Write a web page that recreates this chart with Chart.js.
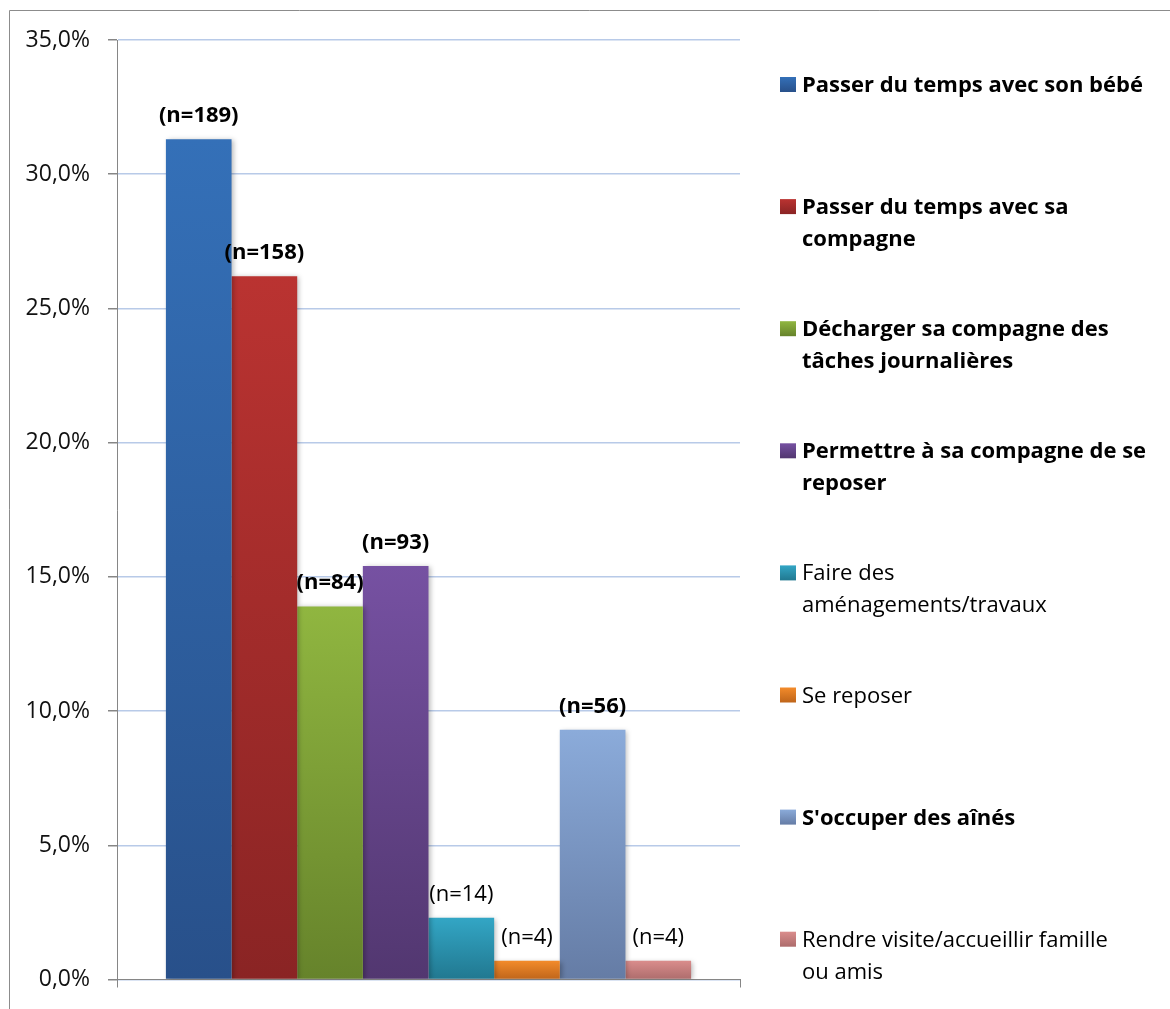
<!DOCTYPE html>
<html>
<head>
<meta charset="utf-8">
<script src="https://cdn.jsdelivr.net/npm/chart.js@4"></script>
<style>
  html, body { margin: 0; padding: 0; background: #fff; }
  #wrap { width: 1170px; height: 1009px; }
</style>
</head>
<body>
<div id="wrap"><canvas id="profileChart" width="1170" height="1009"></canvas></div>
<script>
// categories (\n = where the legend line breaks)
const categories = [
    'Passer du temps avec son bébé',
    'Passer du temps avec sa\ncompagne',
    'Décharger sa compagne des\ntâches journalières',
    'Permettre à sa compagne de se\nreposer',
    'Faire des\naménagements/travaux',
    'Se reposer',
    "S'occuper des aînés",
    'Rendre visite/accueillir famille\nou amis'
];
const percentages = [31.3, 26.2, 13.9, 15.4, 2.3, 0.7, 9.3, 0.7];
const counts = [189, 158, 84, 93, 14, 4, 56, 4];
const boldItems = [true, true, true, true, false, false, true, false];
const topColors = ['#3470b8', '#ba3331', '#90b640', '#7651a2', '#33a6c5', '#f38b2b', '#8babda', '#da8d8c'];
const bottomColors = ['#28508a', '#8a2424', '#66832b', '#523770', '#217890', '#bf651a', '#657ca5', '#ad6c6c'];
const yMin = 0, yMax = 35, yStep = 5;

const FONT = '"Open Sans", "Noto Sans", sans-serif';

window.addEventListener('DOMContentLoaded', (event) => {
    load_graph()
})

function barGradient(i) {
    return function (ctx) {
        const chart = ctx.chart;
        if (!chart.chartArea || !chart.scales.y) return topColors[i];
        const y = chart.scales.y;
        const yTop = y.getPixelForValue(percentages[i]);
        const yBot = y.getPixelForValue(0);
        const g = chart.ctx.createLinearGradient(0, yTop, 0, yBot);
        g.addColorStop(0, topColors[i]);
        g.addColorStop(1, bottomColors[i]);
        return g;
    }
}

const frame = {
    id: 'frame',
    beforeDraw(chart) {
        const c = chart.ctx;
        c.save();
        c.strokeStyle = '#8c8c8c';
        c.lineWidth = 1;
        c.beginPath();
        c.moveTo(9.5, 1009);
        c.lineTo(9.5, 10.5);
        c.lineTo(1170, 10.5);
        c.stroke();
        c.restore();
    }
}

const shadows = {
    id: 'shadows',
    beforeDatasetDraw(chart) {
        const c = chart.ctx;
        c.shadowColor = 'rgba(0,0,0,0.28)';
        c.shadowBlur = 5;
        c.shadowOffsetX = 2;
        c.shadowOffsetY = 1;
    },
    afterDatasetDraw(chart) {
        const c = chart.ctx;
        c.shadowColor = 'rgba(0,0,0,0)';
        c.shadowBlur = 0;
        c.shadowOffsetX = 0;
        c.shadowOffsetY = 0;
    }
}

const nLabels = {
    id: 'nLabels',
    afterDatasetsDraw(chart) {
        const c = chart.ctx;
        c.save();
        c.fillStyle = '#000';
        c.textAlign = 'center';
        c.textBaseline = 'alphabetic';
        chart.data.datasets.forEach((ds, i) => {
            const bar = chart.getDatasetMeta(i).data[0];
            c.font = (boldItems[i] ? 'bold ' : '') + '22px ' + FONT;
            c.fillText('(n=' + counts[i] + ')', bar.x, bar.y - 17);
        });
        c.restore();
    }
}

const sideLegend = {
    id: 'sideLegend',
    afterDraw(chart) {
        const c = chart.ctx;
        c.save();
        c.textAlign = 'left';
        c.textBaseline = 'alphabetic';
        categories.forEach((cat, i) => {
            const base = 92 + i * 122.1;
            const g = c.createLinearGradient(0, base - 15, 0, base);
            g.addColorStop(0, topColors[i]);
            g.addColorStop(1, bottomColors[i]);
            c.fillStyle = g;
            c.fillRect(780, base - 15, 16, 15);
            c.fillStyle = '#000';
            c.font = (boldItems[i] ? 'bold ' : '') + '22px ' + FONT;
            cat.split('\n').forEach((line, k) => {
                c.fillText(line, 802, base + k * 32);
            });
        });
        c.restore();
    }
}

function load_graph() {
    const data = {
        labels: [''],
        datasets: categories.map((cat, i) => ({
            label: cat.replace('\n', ' '),
            data: [percentages[i]],
            backgroundColor: barGradient(i),
            borderWidth: 0,
            categoryPercentage: 0.843,
            barPercentage: 1.0
        }))
    };

    const config = {
        type: 'bar',
        data: data,
        plugins: [frame, shadows, nLabels, sideLegend],
        options: {
            responsive: false,
            animation: false,
            layout: { padding: { left: 0, top: 40, right: 430, bottom: 0 } },
            plugins: {
                legend: { display: false },
                tooltip: { enabled: false }
            },
            scales: {
                x: {
                    ticks: { display: false },
                    grid: {
                        display: true,
                        offset: true,
                        drawOnChartArea: false,
                        drawTicks: true,
                        tickLength: 8,
                        color: '#868686'
                    },
                    border: { display: true, color: '#868686', width: 1 },
                    afterFit(scale) { scale.height = 27; }
                },
                y: {
                    min: yMin,
                    max: yMax,
                    ticks: {
                        stepSize: yStep,
                        padding: 18,
                        color: '#111',
                        font: { family: FONT, size: 23, lineHeight: 1 },
                        callback: (v) => v.toFixed(1).replace('.', ',') + '%'
                    },
                    grid: {
                        color: '#b8cae8',
                        tickColor: '#868686',
                        tickLength: 9,
                        lineWidth: 1.5
                    },
                    border: { display: true, color: '#868686', width: 1 },
                    afterFit(scale) { scale.width = 117; }
                }
            }
        }
    };

    var myChart = new Chart(
        document.getElementById('profileChart'),
        config
    );
}
</script>
</body>
</html>
